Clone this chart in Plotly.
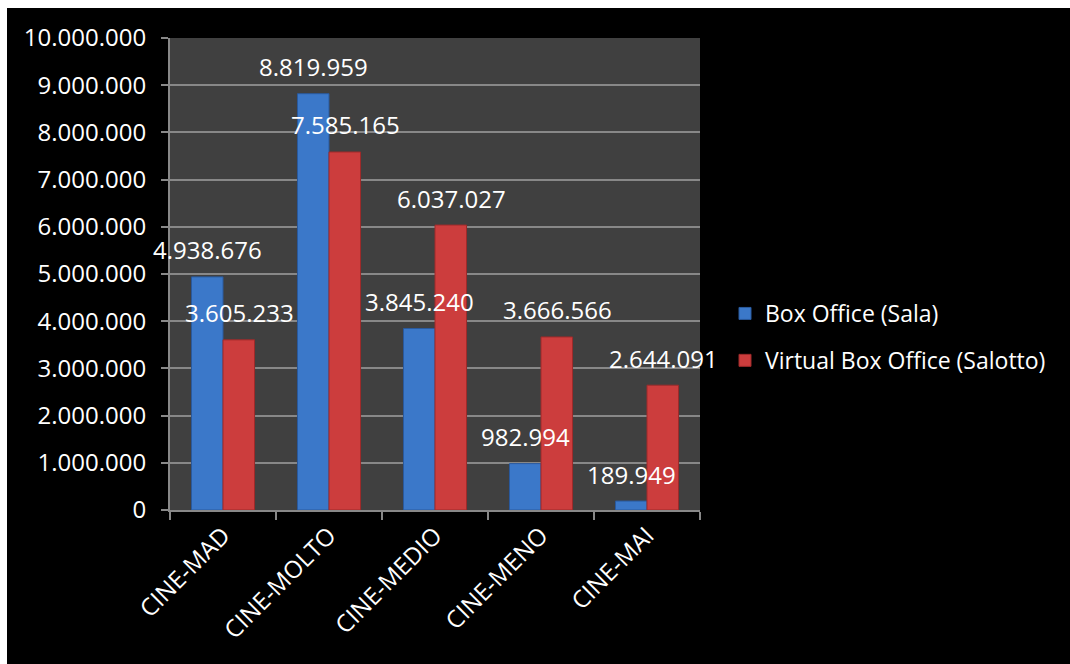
import plotly.graph_objects as go

categories = ["CINE-MAD", "CINE-MOLTO", "CINE-MEDIO", "CINE-MENO", "CINE-MAI"]
box_office = [4938676, 8819959, 3845240, 982994, 189949]
virtual_box_office = [3605233, 7585165, 6037027, 3666566, 2644091]
series_names = ["Box Office (Sala)", "Virtual Box Office (Salotto)"]

FONT = "Open Sans"
FS = 24


def fmt(v):
    return f"{v:,}".replace(",", ".")


fig = go.Figure()
fig.add_trace(go.Bar(
    x=categories, y=box_office, name=series_names[0], legendgroup="a",
    marker=dict(color="#3b78c9", line=dict(color="#2a5a9e", width=1)),
))
fig.add_trace(go.Bar(
    x=categories, y=virtual_box_office, name=series_names[1], legendgroup="b",
    marker=dict(color="#cc3d3d", line=dict(color="#9e2a2a", width=1)),
))

annotations = []
for vals, xs in ((box_office, -16), (virtual_box_office, 16)):
    for c, v in zip(categories, vals):
        annotations.append(dict(
            x=c, y=v, xref="x", yref="y", text=fmt(v), showarrow=False,
            xshift=xs, yshift=27, yanchor="middle", xanchor="center",
            font=dict(family=FONT, size=FS, color="white"),
        ))

# white frame strips (top and left) of the original picture
L, R, T, B = 170, 370, 38, 154
PW, PH = 1070 - L - R, 664 - T - B


def px_x(p):
    return (p - L) / PW


def px_y(p):
    return (664 - B - p) / PH


shapes = [
    dict(type="rect", xref="paper", yref="paper", x0=px_x(0), x1=px_x(1070),
         y0=px_y(8), y1=px_y(0), fillcolor="white", line=dict(width=0), layer="below"),
    dict(type="rect", xref="paper", yref="paper", x0=px_x(0), x1=px_x(7),
         y0=px_y(664), y1=px_y(0), fillcolor="white", line=dict(width=0), layer="below"),
]

fig.update_layout(
    width=1070, height=664,
    margin=dict(l=L, r=R, t=T, b=B, pad=0, autoexpand=False),
    paper_bgcolor="black", plot_bgcolor="#404040",
    separators=",.",
    barmode="group", bargap=0.405, bargroupgap=0,
    font=dict(family=FONT, size=FS, color="white"),
    showlegend=True,
    legend=dict(x=px_x(725), y=px_y(337), xanchor="left", yanchor="middle",
                font=dict(family=FONT, size=23, color="white"),
                bgcolor="rgba(0,0,0,0)", tracegroupgap=14),
    annotations=annotations,
    shapes=shapes,
)
fig.update_yaxes(
    range=[0, 10000000], dtick=1000000, tickformat=",d",
    showgrid=True, gridcolor="#888888", gridwidth=2,
    showline=True, linecolor="#888888", linewidth=2,
    ticks="outside", ticklen=7, tickcolor="#888888", tickwidth=2,
    ticklabelstandoff=10, zeroline=False, automargin=False,
    tickfont=dict(family=FONT, size=FS, color="white"),
)
fig.update_xaxes(
    range=[-0.5, len(categories) - 0.5], autorange=False,
    showline=True, linecolor="#888888", linewidth=2,
    ticks="outside", ticklen=8, tickcolor="#888888", tickwidth=2,
    tickson="boundaries", tickangle=-45, showgrid=False, automargin=False,
    tickfont=dict(family=FONT, size=FS, color="white"),
)

fig.write_html("out.html")
